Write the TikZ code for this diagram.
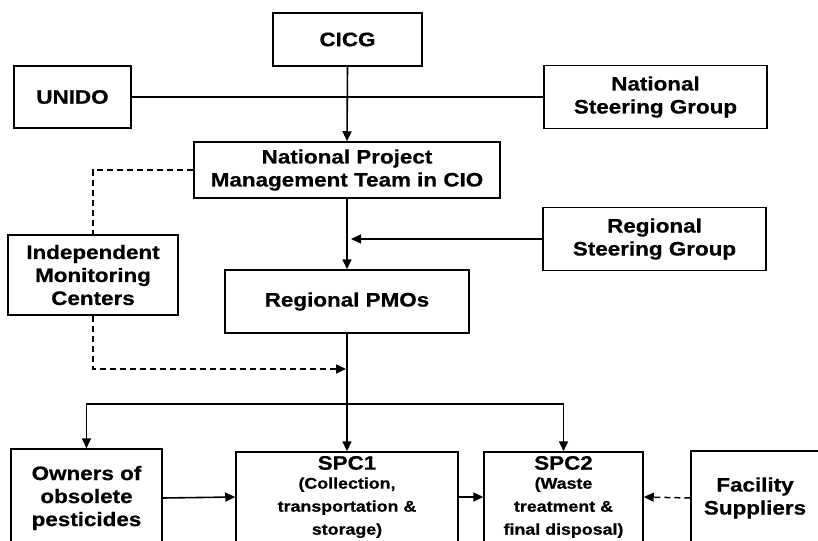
\documentclass[tikz,border=0pt]{standalone}
\usepackage{fontspec}
\newfontfamily\lab[FakeStretch=1.15,FakeBold=0.6]{Liberation Sans}
\usetikzlibrary{arrows.meta}
\newcommand{\smtxt}{\fontsize{15.5}{19}\selectfont}
\tikzset{
  box/.style={draw, line width=1.5pt, fill=white, inner sep=0pt, align=center,
    font=\lab\bfseries\fontsize{19.5}{23}\selectfont},
  ln/.style={line width=1.6pt},
  arr/.style={line width=1.6pt, -{Triangle[length=10pt,width=9pt]}},
  dsh/.style={line width=1.5pt, dash pattern=on 6pt off 4pt},
  dsharr/.style={dsh, -{Triangle[length=10pt,width=9pt]}}
}
\begin{document}
\begin{tikzpicture}[x=1pt,y=-1pt]
\useasboundingbox (0,0) rectangle (818,540);
\clip (0,0) rectangle (818,540);
\fill[white] (0,0) rectangle (818,540);

\node[box, minimum width=149pt, minimum height=53pt] (cicg) at (347.5,39.5) {CICG};
\node[box, minimum width=117pt, minimum height=62pt] (unido) at (72.5,97) {UNIDO};
\node[box, minimum width=223pt, minimum height=63pt] (nsg) at (655.5,97) {National\\Steering Group};
\node[box, minimum width=306pt, minimum height=56pt] (npmt) at (347,170) {National Project\\Management Team in CIO};
\node[box, minimum width=170pt, minimum height=80pt] (imc) at (93,275) {Independent\\Monitoring\\Centers};
\node[box, minimum width=223pt, minimum height=63pt] (rsg) at (654.5,239) {Regional\\Steering Group};
\node[box, minimum width=244pt, minimum height=63pt] (rpmo) at (347,301.5) {Regional PMOs};

\node[box, minimum width=151pt, minimum height=98pt] (owners) at (86.5,498) {Owners of\\obsolete\\pesticides};
\node[box, minimum width=222pt, minimum height=90pt] (spc1) at (347,497) {SPC1\\[-4pt] \smtxt (Collection,\\ \smtxt transportation \&\\ \smtxt storage)};
\node[box, minimum width=159pt, minimum height=90pt] (spc2) at (563.5,497) {SPC2\\[-4pt] \smtxt (Waste\\ \smtxt treatment \&\\ \smtxt final disposal)};
\node[box, minimum width=128pt, minimum height=94pt] (fac) at (755,498) {Facility\\Suppliers};

\draw[ln] (unido.east) -- (nsg.west);
\draw[arr] (cicg.south) -- (npmt.north);
\draw[dsh] (npmt.west) -| (imc.north);
\coordinate (rj) at (351,239);
\draw[arr] (rsg.west) -- (rj);
\draw[arr] (npmt.south) -- (rpmo.north);
\coordinate (dj) at (346,369);
\draw[dsharr] (imc.south) |- (dj);
\coordinate (sp) at (347,404);
\draw[ln] (rpmo.south) -- (sp);
\draw[arr] (sp) -| (owners.north);
\draw[arr] (sp) -- (spc1.north);
\draw[arr] (sp) -| (spc2.north);
\draw[arr] (owners.east) -- (spc1.west);
\draw[arr] (spc1.east) -- (spc2.west);
\draw[dsharr] (fac.west) -- (spc2.east);
\end{tikzpicture}
\end{document}
